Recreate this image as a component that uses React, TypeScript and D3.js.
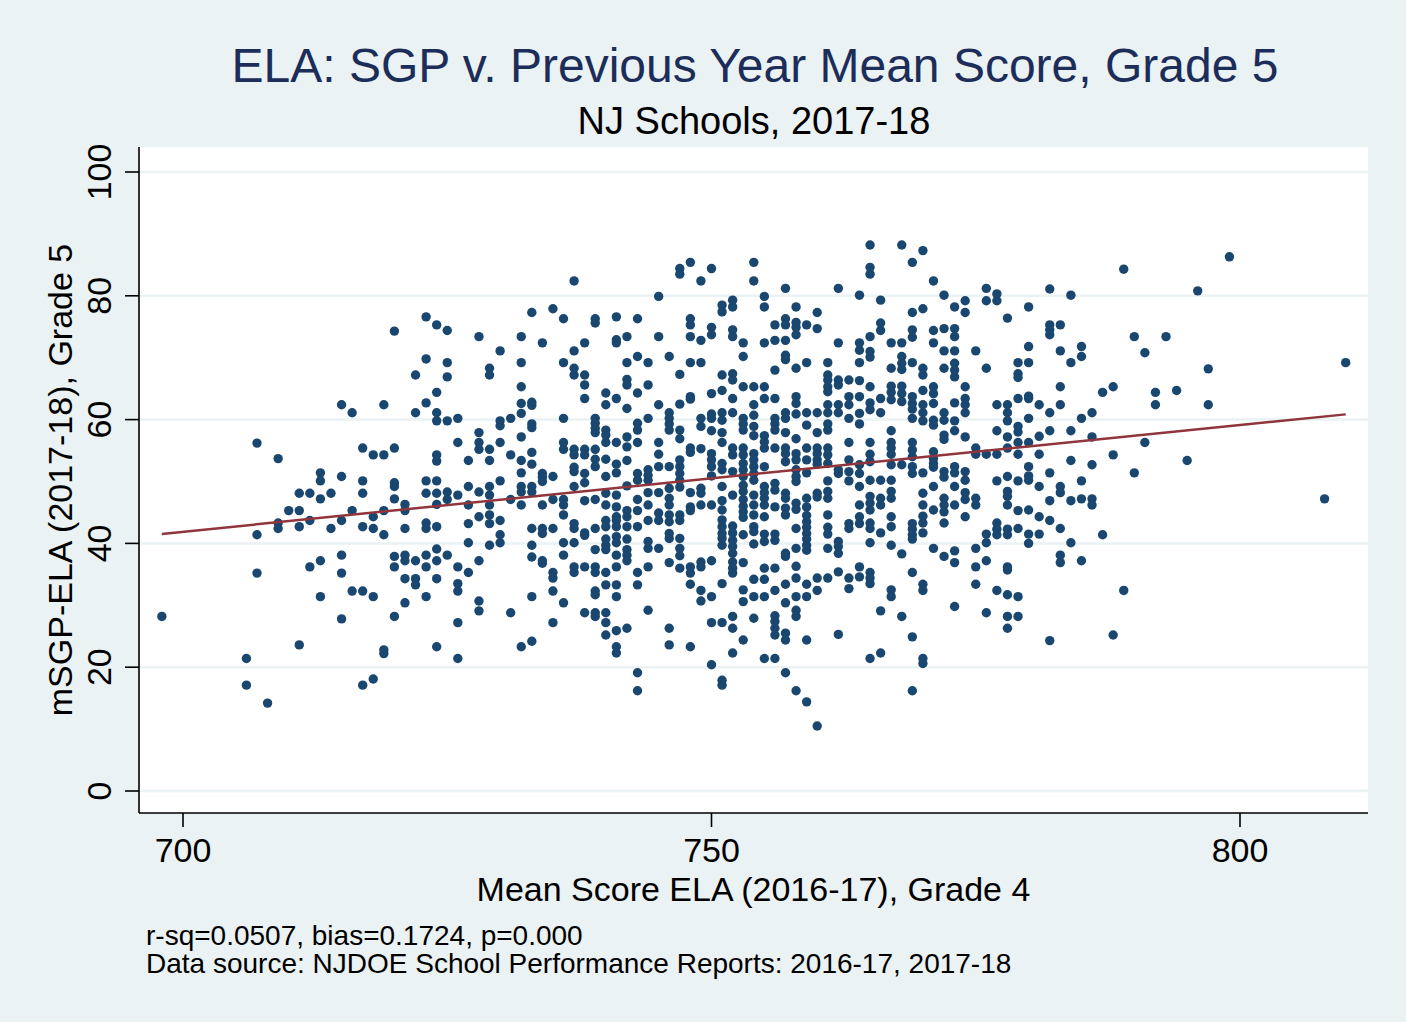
import React from 'react';
import * as d3 from 'd3';

// mean score (x, grade 4 2016-17) -> list of mSGP values (y, grade 5 2017-18)
const schoolPoints: [number, number[]][] = [
  [698, [28.2]],
  [706, [21.4, 17.1]],
  [707, [56.2, 41.4, 35.2]],
  [708, [14.2]],
  [709, [53.7, 43.3, 42.4]],
  [710, [45.3]],
  [711, [48.1, 45.3, 42.7, 23.6]],
  [712, [48.1, 43.7, 36.2]],
  [713, [51.4, 50.1, 47.2, 37.2, 31.4]],
  [714, [48.1, 42.4]],
  [715, [62.4, 50.8, 43.7, 38.1, 35.2, 27.8]],
  [716, [61.1, 45.3, 32.3]],
  [717, [55.4, 50.1, 48.1, 42.7, 32.3, 17.1]],
  [718, [54.3, 44.3, 42.4, 31.4, 18.1]],
  [719, [62.4, 54.3, 45.3, 41.4, 22.8, 22.2]],
  [720, [74.3, 55.4, 49.8, 49.2, 47.2, 37.9, 36.2, 28.2]],
  [721, [46.3, 45.3, 42.4, 38.1, 37.2, 34.3, 30.4]],
  [722, [67.2, 61.1, 37.2, 34.3, 33.3]],
  [723, [76.6, 69.8, 62.7, 50.1, 48.1, 43.3, 42.4, 38.1, 36.2, 31.4]],
  [724, [75.3, 64.4, 61.1, 59.8, 54.3, 53.3, 50.1, 48.1, 46.3, 42.7, 39.1, 37.2, 34.3, 23.3]],
  [725, [74.4, 69.2, 66.9, 59.8, 48.3, 47.1, 38.1]],
  [726, [60.2, 56.3, 47.8, 36.2, 33.5, 32.3, 27.2, 21.4]],
  [727, [53.4, 49.2, 46.2, 43.2, 40.1, 35.3]],
  [728, [73.4, 57.9, 56.3, 55.2, 48.3, 44.3, 37.2, 30.7, 29.1]],
  [729, [68.3, 67.2, 55.2, 53.4, 49.2, 47.8, 46.2, 44.6, 43.2, 39.7]],
  [730, [71.1, 59.8, 59.0, 56.3, 50.1, 43.7, 41.4, 40.1]],
  [731, [60.2, 54.3, 47.1, 28.8]],
  [732, [73.4, 69.2, 65.3, 62.6, 61.0, 57.2, 53.4, 51.4, 49.2, 48.3, 46.2, 23.3]],
  [733, [77.3, 62.8, 62.3, 59.3, 58.7, 54.7, 52.8, 49.2, 48.3, 42.4, 39.7, 37.8, 31.4, 24.2]],
  [734, [72.4, 51.3, 50.7, 50.0, 46.2, 42.4, 41.6, 37.2, 36.8]],
  [735, [77.9, 50.8, 47.1, 42.4, 35.3, 34.4, 32.3, 27.2]],
  [736, [76.3, 69.2, 60.2, 56.3, 55.2, 47.1, 46.2, 44.6, 40.1, 38.1, 30.4]],
  [737, [82.4, 71.1, 68.3, 67.2, 55.2, 54.3, 52.3, 51.6, 49.2, 43.2, 42.4, 40.1, 36.2, 35.3]],
  [738, [72.4, 67.2, 65.6, 63.4, 55.2, 54.3, 51.3, 49.8, 46.9, 41.7, 41.3, 36.2, 28.8]],
  [739, [76.3, 75.6, 60.2, 59.4, 58.6, 57.9, 55.2, 53.6, 52.4, 47.1, 42.4, 39.0, 36.2, 35.3, 32.3, 31.7, 28.8, 28.2]],
  [740, [64.3, 62.4, 58.3, 57.5, 56.3, 53.6, 50.8, 48.1, 46.2, 43.7, 42.7, 40.7, 39.7, 39.0, 35.3, 33.3, 28.8, 27.2, 25.2]],
  [741, [76.6, 72.9, 72.4, 63.4, 56.3, 52.8, 51.4, 47.8, 45.9, 44.3, 43.7, 42.7, 41.1, 40.1, 38.1, 36.2, 33.3, 31.4, 25.9, 23.3, 22.3]],
  [742, [73.4, 69.2, 66.5, 65.6, 61.8, 57.2, 55.6, 53.4, 49.3, 45.3, 44.3, 42.7, 40.7, 39.0, 38.1, 37.2, 26.3]],
  [743, [76.3, 70.2, 64.3, 59.4, 58.3, 56.3, 51.3, 50.2, 47.1, 45.3, 42.7, 35.3, 33.3, 19.1, 16.2]],
  [744, [69.2, 65.6, 60.2, 51.9, 51.0, 50.2, 48.2, 46.2, 43.7, 40.3, 39.2, 36.2, 29.2]],
  [745, [79.9, 73.4, 62.4, 56.3, 54.4, 52.4, 48.2, 44.9, 43.7, 39.2]],
  [746, [70.2, 61.1, 60.2, 59.3, 58.3, 52.4, 48.9, 47.3, 46.2, 44.6, 43.5, 41.6, 40.8, 36.9, 26.3, 23.6]],
  [747, [84.4, 83.5, 67.3, 62.5, 58.3, 56.9, 53.5, 52.4, 51.3, 50.2, 49.1, 44.6, 43.7, 40.8, 39.2, 38.0, 36.0]],
  [748, [85.4, 76.3, 75.3, 73.4, 69.2, 63.7, 63.3, 55.4, 54.7, 48.2, 45.9, 45.3, 36.2, 35.2, 33.4, 23.3]],
  [749, [82.4, 72.8, 69.2, 60.2, 58.9, 55.3, 48.9, 48.1, 46.2, 37.0, 36.2, 32.4, 30.7]],
  [750, [84.4, 74.9, 73.7, 64.2, 60.9, 60.2, 58.2, 54.5, 53.5, 52.4, 50.9, 46.2, 37.2, 31.4, 27.2, 20.4]],
  [751, [78.5, 77.4, 67.2, 64.7, 61.1, 59.9, 57.9, 56.3, 52.9, 51.9, 49.2, 46.9, 45.4, 43.8, 42.7, 41.6, 40.8, 39.7, 33.5, 27.2, 17.9, 17.1]],
  [752, [79.3, 78.2, 74.5, 73.4, 67.4, 66.4, 63.4, 61.1, 55.4, 54.3, 51.6, 47.8, 42.8, 41.7, 40.5, 39.5, 38.4, 37.0, 36.0, 35.2, 28.2, 26.3, 22.3]],
  [753, [72.4, 70.2, 65.3, 60.2, 59.3, 58.3, 55.4, 54.3, 52.9, 51.9, 50.8, 49.4, 48.4, 47.1, 46.0, 45.1, 44.2, 41.4, 36.9, 32.5, 30.6, 24.4]],
  [754, [85.4, 82.4, 65.3, 62.4, 60.7, 58.9, 57.4, 54.5, 53.5, 52.4, 51.3, 50.2, 47.8, 46.2, 44.6, 42.7, 41.9, 39.9, 34.2, 31.4, 27.9]],
  [755, [79.9, 78.2, 72.4, 65.3, 63.4, 57.4, 56.4, 55.4, 52.4, 49.2, 48.2, 47.3, 46.2, 44.3, 41.5, 40.3, 36.0, 34.2, 31.4, 21.4]],
  [756, [75.3, 72.8, 68.0, 63.4, 60.2, 59.3, 58.3, 55.4, 49.7, 48.6, 45.9, 41.5, 40.5, 36.0, 32.4, 28.3, 27.4, 26.3, 25.2, 21.4]],
  [757, [81.2, 76.3, 75.3, 72.8, 70.4, 69.7, 61.1, 60.2, 57.9, 55.4, 54.5, 53.2, 48.1, 47.3, 45.7, 44.6, 38.4, 37.9, 33.4, 30.4, 25.5, 24.4, 19.1]],
  [758, [78.2, 75.7, 74.9, 73.7, 68.3, 63.7, 62.6, 60.9, 56.9, 54.5, 53.5, 51.9, 50.8, 50.0, 46.5, 45.5, 42.4, 39.2, 36.3, 34.4, 31.4, 29.2, 28.2, 16.2]],
  [759, [75.3, 69.2, 61.1, 59.1, 55.4, 53.5, 51.4, 47.3, 45.9, 44.5, 43.5, 42.6, 41.6, 40.7, 39.7, 38.9, 33.4, 31.4, 24.4, 14.4]],
  [760, [77.3, 74.7, 61.1, 57.9, 55.4, 54.5, 53.5, 52.8, 48.1, 47.5, 34.4, 32.4, 10.5]],
  [761, [69.2, 67.2, 66.4, 65.3, 64.5, 62.4, 61.1, 59.3, 58.3, 55.4, 54.3, 52.9, 50.1, 48.4, 47.3, 44.6, 42.6, 41.5, 39.2, 34.4]],
  [762, [81.2, 72.4, 66.4, 65.6, 62.4, 61.1, 51.9, 51.3, 40.3, 39.5, 38.4, 35.4, 25.3]],
  [763, [66.4, 63.7, 62.4, 60.2, 56.3, 53.5, 51.6, 50.1, 43.2, 42.4, 34.4, 32.7]],
  [764, [80.1, 72.4, 71.2, 69.2, 66.3, 63.7, 61.0, 59.3, 52.7, 51.3, 49.2, 46.2, 44.3, 43.2, 36.2, 34.6]],
  [765, [88.2, 84.6, 83.5, 73.4, 71.0, 70.1, 65.3, 62.7, 61.6, 56.3, 54.4, 53.2, 50.2, 47.6, 46.5, 45.4, 43.3, 42.4, 40.1, 35.3, 34.4, 33.5, 21.4]],
  [766, [79.3, 75.6, 74.4, 63.4, 61.1, 50.2, 47.3, 46.2, 41.7, 29.1, 22.3]],
  [767, [72.4, 68.3, 65.4, 64.4, 63.2, 58.2, 56.3, 55.4, 54.4, 52.7, 50.2, 48.4, 47.3, 44.3, 42.7, 39.7, 32.5, 31.4]],
  [768, [88.2, 72.4, 70.2, 69.1, 68.1, 65.4, 64.2, 62.9, 52.7, 38.3, 28.2]],
  [769, [85.4, 77.3, 74.5, 73.3, 69.2, 63.7, 62.6, 61.7, 60.2, 56.3, 55.1, 54.0, 52.4, 51.3, 43.2, 42.3, 41.4, 40.7, 35.3, 24.9, 16.2]],
  [770, [87.3, 77.9, 68.3, 67.2, 64.7, 62.4, 61.1, 59.8, 51.4, 48.1, 46.2, 44.4, 43.3, 41.7, 33.4, 32.4, 21.4, 20.6]],
  [771, [82.4, 74.4, 72.4, 65.3, 64.2, 62.6, 59.9, 59.1, 54.8, 53.7, 52.9, 52.3, 49.2, 45.4, 39.2]],
  [772, [80.1, 74.7, 71.1, 68.3, 61.1, 59.9, 57.5, 56.8, 51.6, 50.7, 47.3, 46.2, 45.1, 43.3, 37.9]],
  [773, [78.2, 74.7, 73.4, 71.1, 69.1, 68.0, 66.9, 62.7, 59.8, 58.2, 52.4, 51.4, 49.2, 46.2, 38.8, 36.9, 29.8]],
  [774, [79.2, 77.3, 65.3, 63.4, 62.4, 61.1, 57.2, 51.6, 50.2, 48.2, 47.1, 44.3]],
  [775, [71.1, 55.4, 54.4, 47.3, 46.2, 39.2, 36.2, 33.4]],
  [776, [81.2, 79.2, 68.3, 54.4, 41.5, 40.1, 37.2, 28.8]],
  [777, [80.3, 79.2, 62.4, 58.2, 54.4, 50.1, 43.3, 42.3, 41.4, 32.4]],
  [778, [76.4, 62.4, 61.1, 59.8, 57.2, 55.4, 50.8, 48.4, 47.6, 46.2, 42.3, 41.4, 36.2, 35.7, 31.7, 28.2, 26.3]],
  [779, [69.2, 67.4, 66.8, 63.4, 58.9, 58.0, 56.3, 54.4, 50.1, 45.3, 42.4, 31.4, 28.2]],
  [780, [78.2, 71.8, 69.2, 63.8, 63.4, 60.2, 56.3, 52.4, 50.9, 50.2, 45.4, 41.5, 40.0]],
  [781, [62.4, 57.3, 54.4, 49.2, 44.3, 41.5]],
  [782, [81.1, 75.3, 74.5, 73.7, 61.1, 58.2, 51.4, 46.9, 43.7, 24.3]],
  [783, [75.3, 71.1, 65.3, 62.4, 49.2, 48.2, 42.4, 38.1, 36.9]],
  [784, [80.1, 69.2, 58.2, 53.4, 46.9, 40.1]],
  [785, [71.8, 70.2, 60.2, 50.1, 47.2, 37.2]],
  [786, [61.1, 57.2, 52.7, 47.2, 46.2]],
  [787, [64.4, 41.4]],
  [788, [65.3, 54.3, 25.2]],
  [789, [84.3, 32.4]],
  [790, [73.4, 51.4]],
  [791, [70.8, 56.3]],
  [792, [64.4, 62.4]],
  [793, [73.4]],
  [794, [64.7]],
  [795, [53.4]],
  [796, [80.8]],
  [797, [68.2, 62.4]],
  [799, [86.3]],
  [808, [47.2]],
  [810, [69.2]],
];

const xTicks = [700, 750, 800];
const yTicks = [0, 20, 40, 60, 80, 100];

// linear fit (bias = slope)
const fitSlope = 0.1724;
const fitIntercept = -78.8;

const titleText = 'ELA: SGP v. Previous Year Mean Score, Grade 5';
const subtitleText = 'NJ Schools, 2017-18';
const xTitle = 'Mean Score ELA (2016-17), Grade 4';
const yTitle = 'mSGP-ELA (2017-18), Grade 5';
const notes = [
  'r-sq=0.0507, bias=0.1724, p=0.000',
  'Data source: NJDOE School Performance Reports: 2016-17, 2017-18',
];

const W = 1406;
const H = 1022;
const plot = { left: 139, top: 147, right: 1368, bottom: 813 };
const font = '"Liberation Sans", Arial, Helvetica, sans-serif';

const App = () => {
  const xScale = d3.scaleLinear().domain([700, 800]).range([183, 1240]);
  const yScale = d3.scaleLinear().domain([0, 100]).range([791, 172]);

  const points = schoolPoints.flatMap(([x, ys]) => ys.map(y => ({ x, y })));
  const [xMin, xMax] = d3.extent(points, d => d.x) as [number, number];

  const fitLine = d3.line<number>()
    .x(d => xScale(d))
    .y(d => yScale(fitIntercept + fitSlope * d));

  const midX = (plot.left + plot.right) / 2;
  const midY = (plot.top + plot.bottom) / 2;

  return (
    <div style={{ position: 'absolute', left: 0, top: 0 }}>
      <svg width={W} height={H} style={{ display: 'block', fontFamily: font }}>
        <rect width={W} height={H} fill="#eaf2f3" />
        <rect
          x={plot.left}
          y={plot.top}
          width={plot.right - plot.left}
          height={plot.bottom - plot.top}
          fill="#ffffff"
        />

        {/* grid */}
        {yTicks.map(t => (
          <line key={'g' + t} x1={plot.left} x2={plot.right} y1={yScale(t)} y2={yScale(t)}
            stroke="#eaf2f3" strokeWidth={2.5} />
        ))}

        {/* points */}
        {points.map((p, i) => (
          <circle key={i} cx={xScale(p.x)} cy={yScale(p.y)} r={4.7} fill="#1a476f" />
        ))}

        {/* fitted line */}
        <path d={fitLine([xMin, xMax]) || ''} fill="none" stroke="#90353b" strokeWidth={2.5} />

        {/* axes */}
        <line x1={plot.left} x2={plot.left} y1={plot.top} y2={plot.bottom} stroke="#000" strokeWidth={1.6} />
        <line x1={plot.left} x2={plot.right} y1={plot.bottom} y2={plot.bottom} stroke="#000" strokeWidth={1.6} />

        {yTicks.map(t => (
          <g key={'y' + t}>
            <line x1={plot.left - 14} x2={plot.left} y1={yScale(t)} y2={yScale(t)} stroke="#000" strokeWidth={1.6} />
            <text
              transform={`translate(111,${yScale(t)}) rotate(-90)`}
              textAnchor="middle"
              fontSize={34}
              fill="#000"
            >
              {t}
            </text>
          </g>
        ))}

        {xTicks.map(t => (
          <g key={'x' + t}>
            <line x1={xScale(t)} x2={xScale(t)} y1={plot.bottom} y2={plot.bottom + 14} stroke="#000" strokeWidth={1.6} />
            <text x={xScale(t)} y={862} textAnchor="middle" fontSize={34} fill="#000">
              {t}
            </text>
          </g>
        ))}

        <text x={midX} y={901} textAnchor="middle" fontSize={34} fill="#000">{xTitle}</text>
        <text transform={`translate(72,${midY}) rotate(-90)`} textAnchor="middle" fontSize={34} fill="#000">
          {yTitle}
        </text>

        <text x={755} y={82} textAnchor="middle" fontSize={48} fill="#1c2d5a">{titleText}</text>
        <text x={754} y={134} textAnchor="middle" fontSize={38} fill="#000">{subtitleText}</text>

        {notes.map((n, i) => (
          <text key={i} x={146} y={945 + i * 28} fontSize={28} fill="#000">{n}</text>
        ))}
      </svg>
    </div>
  );
};

export default App;
